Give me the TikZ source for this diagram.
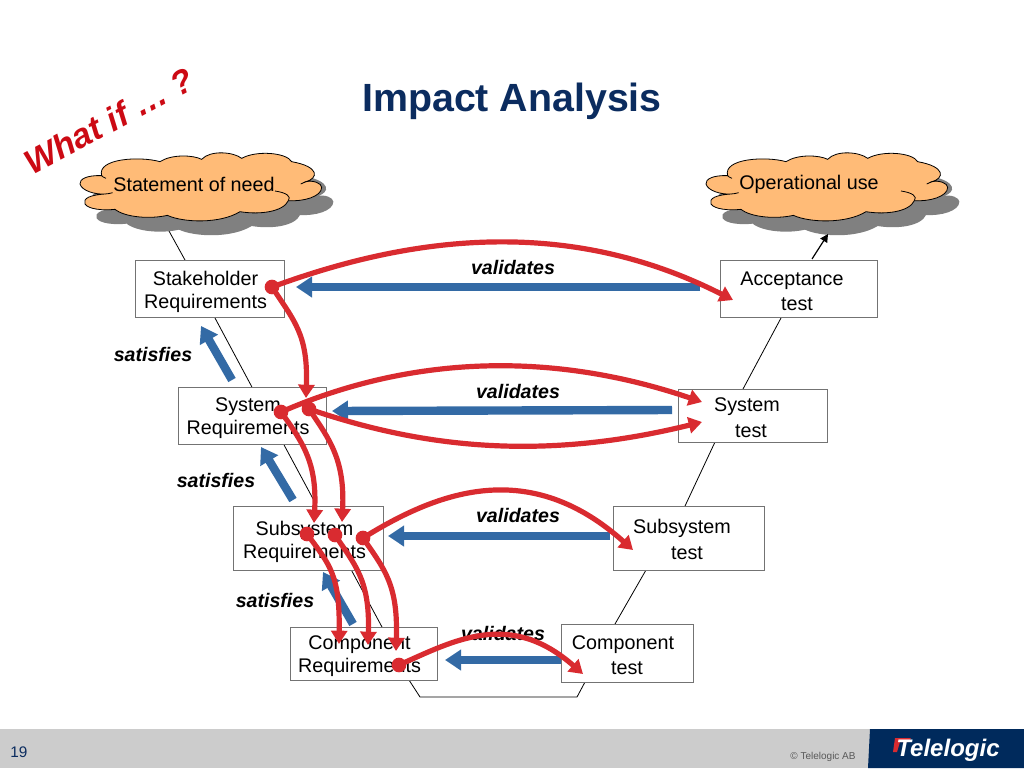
\documentclass[tikz,border=0pt]{standalone}
\usepackage{fontspec}
\setmainfont{Liberation Sans}
\usetikzlibrary{arrows.meta,calc}
\definecolor{navy}{HTML}{0B2C5F}
\definecolor{logonavy}{HTML}{002A5C}
\definecolor{redline}{HTML}{D92B30}
\definecolor{whatred}{HTML}{CC0A14}
\definecolor{bluearrow}{HTML}{336AA5}
\definecolor{cloudfill}{HTML}{FFBB77}
\definecolor{cloudshade}{HTML}{808080}
\definecolor{footgray}{HTML}{CCCCCC}
\newcommand\cloudout{(125,137) .. controls (80,135) and (58,148) .. (60,162) .. controls (65,182) and (105,194) .. (135,192) .. controls (90,195) and (68,205) .. (75,222) .. controls (85,238) and (130,242) .. (165,238) .. controls (195,262) and (270,268) .. (322,256) .. controls (370,278) and (480,282) .. (540,245) .. controls (600,255) and (670,245) .. (685,212) .. controls (730,215) and (785,200) .. (785,172) .. controls (785,160) and (760,150) .. (738,155) .. controls (775,145) and (780,110) .. (695,95) .. controls (680,68) and (590,60) .. (545,85) .. controls (520,65) and (450,60) .. (425,88) .. controls (400,75) and (335,72) .. (300,95) .. controls (240,78) and (110,85) .. (125,137) -- cycle}
\newcommand\cloudat[2]{%
  \begin{scope}[shift={(#1,#2)},x=.25pt,y=-.25pt]
    \fill[cloudshade,shift={(35,43)}] \cloudout;
    \draw[fill=cloudfill,draw=black,line width=.6pt] \cloudout;
    \draw[line width=.6pt] (645,183) .. controls (680,188) and (695,200) .. (685,212);
    \draw[line width=.6pt] (125,137) .. controls (128,140) and (130,142) .. (138,145);
    \draw[line width=.6pt] (135,192) .. controls (142,192) and (150,190) .. (158,188);
    \draw[line width=.6pt] (738,155) .. controls (732,157) and (728,160) .. (722,162);
  \end{scope}}
\tikzset{
  every node/.style={font=\fontsize{14.8}{17.4}\selectfont},
  stagebox/.style={draw=black!55,fill=white,line width=.7pt},
  boxtext/.style={align=center,inner sep=0pt},
  vline/.style={draw=black,line width=.6pt},
  impact/.style={draw=redline,line width=3.9pt,-{Triangle[length=10pt,width=12pt]}},
  trace/.style={draw=bluearrow,line width=6.3pt,-{Triangle[length=12pt,width=15pt]}},
  reddot/.style={circle,fill=redline,inner sep=0pt,minimum size=11pt},
  relabel/.style={font=\fontsize{14.7}{17}\selectfont\bfseries\itshape,inner sep=0pt},
}
\begin{document}
\begin{tikzpicture}[x=.75pt,y=-.75pt]
\useasboundingbox (0,0) rectangle (1024,768);
\fill[white] (0,0) rectangle (1024,768);
% footer
\fill[footgray] (0,729) rectangle (1024,768);
\fill[logonavy] (870,729) -- (1024,729) -- (1024,768) -- (868,768) -- cycle;
\fill[redline] (895,738) -- (911,738) -- (908,742) -- (900,742) -- (897,752) -- (893,752) -- cycle;
\node[inner sep=0pt,text=white,font=\fontsize{18}{18}\selectfont\bfseries\itshape] (logo) at (948,750) {Telelogic};
\node[inner sep=0pt,text=black!65,font=\fontsize{7.5}{9}\selectfont] (copy) at (823,757) {© Telelogic AB};
\node[inner sep=0pt,text=navy,font=\fontsize{11.5}{14}\selectfont] (page) at (19,752) {19};
% title
\node[inner sep=0pt,text=navy,font=\fontsize{29.5}{32}\selectfont\bfseries] (title) at (512,101) {Impact Analysis};
\node[inner sep=0pt,text=whatred,rotate=28,font=\fontsize{25.5}{28}\selectfont\bfseries\itshape] (whatif) at (109,121) {What if … ?};
% V-model lines
\coordinate (a0) at (169,231); \coordinate (a1) at (185,260);
\coordinate (b0) at (215,318); \coordinate (b1) at (253,389);
\coordinate (c0) at (283,443); \coordinate (c1) at (382,627);
\coordinate (d0) at (409,680); \coordinate (d1) at (420,697);
\coordinate (d2) at (577,697); \coordinate (d3) at (585,682);
\coordinate (e0) at (615,624); \coordinate (e1) at (646,570);
\coordinate (f0) at (685,506); \coordinate (f1) at (715,442);
\coordinate (g0) at (743,389); \coordinate (g1) at (781,318);
\coordinate (h0) at (812,259); \coordinate (h1) at (828,234);
\draw[vline] (a0) -- (a1);
\draw[vline] (b0) -- (b1);
\draw[vline] (c0) -- (c1);
\draw[vline] (d0) -- (d1) -- (d2) -- (d3);
\draw[vline] (e0) -- (e1);
\draw[vline] (f0) -- (f1);
\draw[vline] (g0) -- (g1);
% clouds
\cloudat{60}{130}
\cloudat{686}{130}
\draw[vline,line width=.9pt,-{Triangle[length=6pt,width=6pt]}] (h0) -- (h1);
\node[inner sep=0pt] (need) at (194,184) {Statement of need};
\node[inner sep=0pt] (opuse) at (809,184) {Operational use};
% boxes
\path[stagebox] (135,260) rectangle (284,317);
\path[stagebox] (178,387) rectangle (326,444);
\path[stagebox] (233,506) rectangle (383,570);
\path[stagebox] (290,627) rectangle (437,680);
\path[stagebox] (720,260) rectangle (877,317);
\path[stagebox] (678,389) rectangle (827,442);
\path[stagebox] (613,506) rectangle (764,570);
\path[stagebox] (561,624) rectangle (693,682);
\node[boxtext] (stake) at (205.5,291.5) {Stakeholder\\Requirements};
\node[boxtext] (sysreq) at (248,418.5) {System\\Requirements};
\node[boxtext] (subreq) at (304.5,541.5) {Subsystem\\Requirements};
\node[boxtext] (compreq) at (359.5,656.5) {Component\\Requirements};
\node[inner sep=0pt] (acc1) at (792,280.5) {Acceptance};
\node[inner sep=0pt] (acc2) at (797,304) {test};
\node[inner sep=0pt] (syst1) at (747,406.5) {System};
\node[inner sep=0pt] (syst2) at (751,431) {test};
\node[inner sep=0pt] (subt1) at (682,528.5) {Subsystem};
\node[inner sep=0pt] (subt2) at (687,553) {test};
\node[inner sep=0pt] (compt1) at (623,644.5) {Component};
\node[inner sep=0pt] (compt2) at (627,668) {test};
% labels
\node[relabel] (v1) at (513,267) {validates};
\node[relabel] (v2) at (518,391) {validates};
\node[relabel] (v3) at (518,515) {validates};
\node[relabel] (v4) at (503,633) {validates};
\node[relabel] (s1) at (153,354) {satisfies};
\node[relabel] (s2) at (216,480) {satisfies};
\node[relabel] (s3) at (275,600) {satisfies};
% blue arrows
\coordinate (ba1) at (700,287); \coordinate (bb1) at (296,287);
\coordinate (ba2) at (672,410); \coordinate (bb2) at (332,411);
\coordinate (ba3) at (610,536); \coordinate (bb3) at (388,536);
\coordinate (ba4) at (561,660); \coordinate (bb4) at (445,660);
\coordinate (sa1) at (232,380); \coordinate (sb1) at (201,326);
\coordinate (sa2) at (293,500); \coordinate (sb2) at (261,447);
\coordinate (sa3) at (353,624); \coordinate (sb3) at (323,572);
\foreach \p/\q in {ba1/bb1,ba2/bb2,ba3/bb3,ba4/bb4,sa1/sb1,sa2/sb2,sa3/sb3}
  \draw[trace] (\p) -- (\q);
% red dots
\node[reddot] (r1) at (272,287) {};
\node[reddot] (r2) at (281,412) {};
\node[reddot] (r3) at (309,409) {};
\node[reddot] (r4) at (307,534) {};
\node[reddot] (r5) at (335,535) {};
\node[reddot] (r6) at (363,538) {};
\node[reddot] (r7) at (399,665) {};
% red end points
\coordinate (t1) at (733,300);
\coordinate (t2) at (306,398);
\coordinate (t3) at (702,402);
\coordinate (t4) at (702,422);
\coordinate (t5) at (314,523);
\coordinate (t6) at (342,522);
\coordinate (t7) at (339,644);
\coordinate (t8) at (368,645);
\coordinate (t9) at (396,651);
\coordinate (t10) at (633,550);
\coordinate (t11) at (583,674);
% red curves
\draw[impact] (r1.center) .. controls (400,240) and (560,212) .. (t1);
\draw[impact] (r1.center) .. controls (295,322) and (308,335) .. (t2);
\draw[impact] (r2.center) .. controls (400,360) and (540,347) .. (t3);
\draw[impact] (r3.center) .. controls (420,447) and (540,462) .. (t4);
\draw[impact] (r2.center) .. controls (305,445) and (317,465) .. (t5);
\draw[impact] (r3.center) .. controls (330,440) and (345,460) .. (t6);
\draw[impact] (r4.center) .. controls (330,565) and (340,575) .. (t7);
\draw[impact] (r5.center) .. controls (355,565) and (370,580) .. (t8);
\draw[impact] (r6.center) .. controls (385,570) and (398,585) .. (t9);
\draw[impact] (r6.center) .. controls (440,490) and (530,458) .. (t10);
\draw[impact] (r7.center) .. controls (455,640) and (510,610) .. (t11);
\end{tikzpicture}
\end{document}
